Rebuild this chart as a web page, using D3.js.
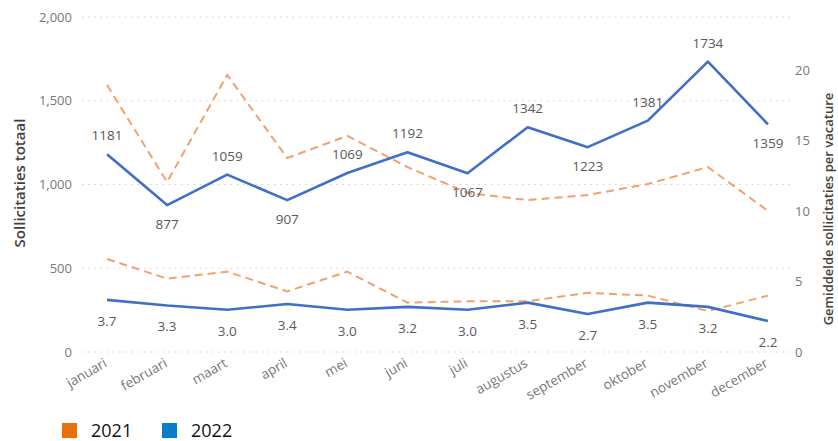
<!DOCTYPE html>
<html>
<head>
<meta charset="utf-8">
<script src="https://cdn.jsdelivr.net/npm/d3@7"></script>
<style>
  body { margin: 0; background: #fff; }
  text { font-family: "Open Sans", "Noto Sans", sans-serif; }
</style>
</head>
<body>
<svg id="chart" width="838" height="441"></svg>
<script>
// data
var months = ["januari", "februari", "maart", "april", "mei", "juni", "juli",
  "augustus", "september", "oktober", "november", "december"];
var totaal2022 = [1181, 877, 1059, 907, 1069, 1192, 1067, 1342, 1223, 1381, 1734, 1359];
var totaal2021 = [1594, 1015, 1654, 1158, 1290, 1104, 950, 907, 937, 1003, 1104, 842];
var perVacature2022 = [3.7, 3.3, 3.0, 3.4, 3.0, 3.2, 3.0, 3.5, 2.7, 3.5, 3.2, 2.2];
var perVacature2021 = [6.6, 5.2, 5.7, 4.3, 5.7, 3.5, 3.6, 3.6, 4.2, 4.0, 2.9, 4.0];
var leftTicks = [0, 500, 1000, 1500, 2000];
var rightTicks = [0, 5, 10, 15, 20];
var years = ["2021", "2022"];

// where the total labels sit (above / below the point)
var totaalLabelPos = ["up", "down", "up", "down", "up", "up", "down", "up", "down", "up", "up", "down"];

var svg = d3.select("#chart");
var blue = "#3f6fc6", orange = "#f4a06c";

var x = d3.scalePoint().domain(months).range([107, 768]);
var yL = d3.scaleLinear().domain([0, 2000]).range([352, 17]);
var yR = d3.scaleLinear().domain([0, 23.76]).range([352, 17]);

// gridlines
svg.selectAll(".grid")
    .data(leftTicks)
    .enter().append("line")
    .attr("x1", 82).attr("x2", 792)
    .attr("y1", d => yL(d)).attr("y2", d => yL(d))
    .attr("stroke", "#c8c8c8")
    .attr("stroke-width", 1.2)
    .attr("stroke-dasharray", "1.2,5");

// left axis
var gl = svg.append("g").attr("transform", "translate(72,0)")
    .call(d3.axisLeft(yL).tickValues(leftTicks).tickFormat(d3.format(",")).tickSize(0).tickPadding(0));
gl.select(".domain").remove();
gl.selectAll("text").attr("fill", "#777").style("font-size", "13px");

// right axis
var gr = svg.append("g").attr("transform", "translate(795,0)")
    .call(d3.axisRight(yR).tickValues(rightTicks).tickSize(0).tickPadding(0));
gr.select(".domain").remove();
gr.selectAll("text").attr("fill", "#777").style("font-size", "13px");

// x labels
svg.selectAll(".xlab")
    .data(months)
    .enter().append("text")
    .attr("transform", d => "translate(" + (x(d) - 4) + ",357) rotate(-30)")
    .attr("text-anchor", "end")
    .attr("dy", "0.75em")
    .attr("fill", "#777")
    .style("font-size", "13.5px")
    .text(d => d);

// axis titles
svg.append("text")
    .attr("transform", "translate(20,183) rotate(-90)")
    .attr("text-anchor", "middle")
    .attr("dy", "0.35em")
    .attr("fill", "#404040")
    .style("font-size", "15px")
    .style("font-weight", "600")
    .text("Sollicitaties totaal");

svg.append("text")
    .attr("transform", "translate(828,209) rotate(-90)")
    .attr("text-anchor", "middle")
    .attr("dy", "0.35em")
    .attr("fill", "#404040")
    .style("font-size", "13px")
    .style("font-weight", "600")
    .text("Gemiddelde sollicitaties per vacature");

// lines
var lineL = d3.line().x((d, i) => x(months[i])).y(d => yL(d));
var lineR = d3.line().x((d, i) => x(months[i])).y(d => yR(d));

svg.append("path").datum(totaal2021).attr("d", lineL)
    .attr("fill", "none").attr("stroke", orange).attr("stroke-width", 2)
    .attr("stroke-dasharray", "8,5");
svg.append("path").datum(perVacature2021).attr("d", lineR)
    .attr("fill", "none").attr("stroke", orange).attr("stroke-width", 2)
    .attr("stroke-dasharray", "8,5");
svg.append("path").datum(totaal2022).attr("d", lineL)
    .attr("fill", "none").attr("stroke", blue).attr("stroke-width", 2.6)
    .attr("stroke-linejoin", "round");
svg.append("path").datum(perVacature2022).attr("d", lineR)
    .attr("fill", "none").attr("stroke", blue).attr("stroke-width", 2.6)
    .attr("stroke-linejoin", "round");

// data labels
svg.selectAll(".lblT")
    .data(totaal2022)
    .enter().append("text")
    .attr("x", (d, i) => x(months[i]))
    .attr("y", (d, i) => yL(d) + (totaalLabelPos[i] == "up" ? -14 : 24))
    .attr("text-anchor", "middle")
    .attr("fill", "#595959")
    .style("font-size", "13.5px")
    .text(d => d);

svg.selectAll(".lblV")
    .data(perVacature2022)
    .enter().append("text")
    .attr("x", (d, i) => x(months[i]))
    .attr("y", d => yR(d) + 26)
    .attr("text-anchor", "middle")
    .attr("fill", "#595959")
    .style("font-size", "13.5px")
    .text(d => d.toFixed(1));

// legend
var legendColors = ["#e8700a", "#0a7ccc"];
var lg = svg.selectAll(".leg")
    .data(years)
    .enter().append("g")
    .attr("transform", (d, i) => "translate(" + (62 + i * 100) + ",423)");
lg.append("rect").attr("width", 15).attr("height", 15)
    .attr("fill", (d, i) => legendColors[i]);
lg.append("text").attr("x", 29).attr("y", 14)
    .attr("fill", "#111")
    .style("font-size", "18px")
    .text(d => d);
</script>
</body>
</html>
